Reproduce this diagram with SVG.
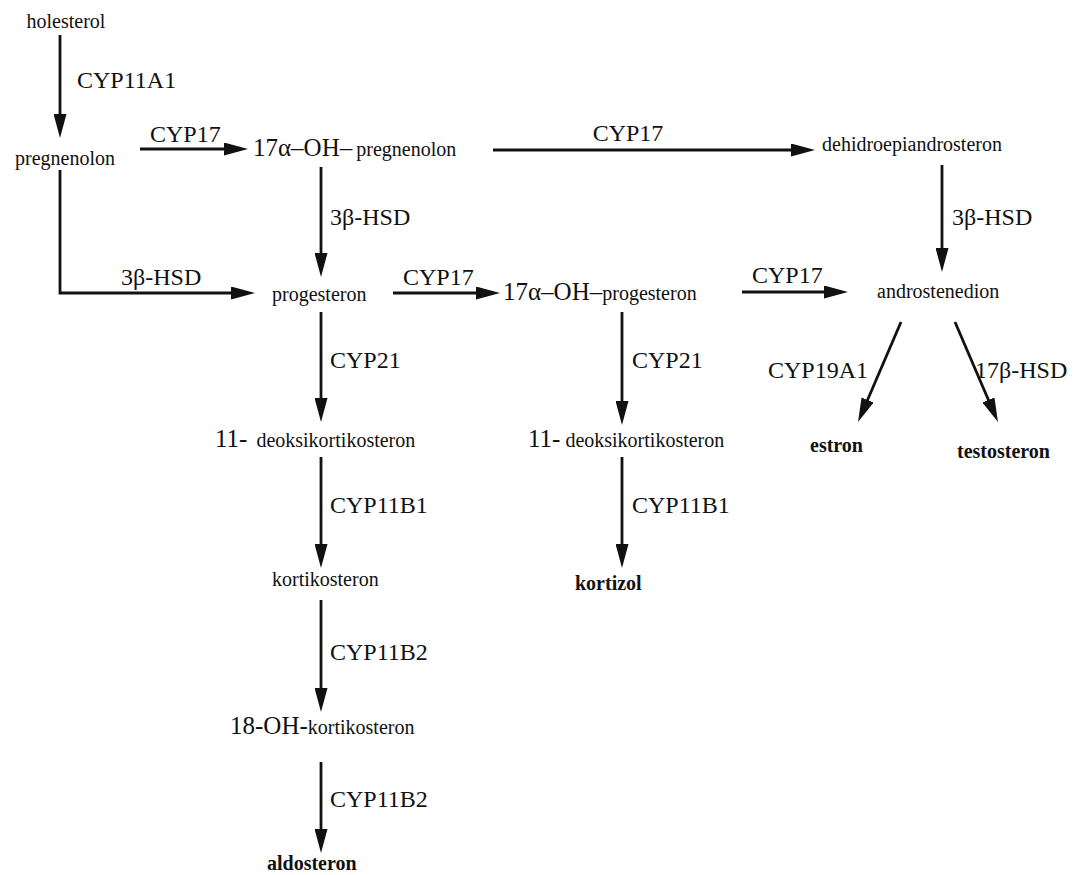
<svg xmlns="http://www.w3.org/2000/svg" width="1079" height="875" viewBox="0 0 1079 875">
<style>
text{font-family:"Liberation Serif","Times New Roman",serif;fill:#111}
.s{font-size:20px}
.l{font-size:24px}
.p{font-size:25px}
.b{font-size:20px;font-weight:bold}
.c line,.c polyline{stroke:#111;stroke-width:2.8;fill:none}
</style>
<defs>
<marker id="ah" viewBox="0 0 24 13" refX="16" refY="6.5" markerWidth="24" markerHeight="13" markerUnits="userSpaceOnUse" orient="auto">
<path d="M0,0 L24,6.5 L0,13 z" fill="#111"/>
</marker>
</defs>
<rect width="1079" height="875" fill="#fff"/>
<g class="c">
<line x1="60" y1="35" x2="60" y2="130" marker-end="url(#ah)"/>
<line x1="140" y1="149" x2="240" y2="149" marker-end="url(#ah)"/>
<line x1="493" y1="150" x2="807" y2="150" marker-end="url(#ah)"/>
<line x1="321" y1="167" x2="321" y2="269" marker-end="url(#ah)"/>
<polyline points="60,170 60,293 247,293" marker-end="url(#ah)"/>
<line x1="393" y1="293" x2="492" y2="293" marker-end="url(#ah)"/>
<line x1="742" y1="292" x2="840" y2="292" marker-end="url(#ah)"/>
<line x1="942" y1="165" x2="942" y2="264" marker-end="url(#ah)"/>
<line x1="901" y1="322" x2="861.2" y2="414.7" marker-end="url(#ah)"/>
<line x1="955" y1="322" x2="994.8" y2="414.7" marker-end="url(#ah)"/>
<line x1="321" y1="312" x2="321" y2="414" marker-end="url(#ah)"/>
<line x1="622" y1="312" x2="622" y2="417" marker-end="url(#ah)"/>
<line x1="321" y1="457" x2="321" y2="560" marker-end="url(#ah)"/>
<line x1="622" y1="457" x2="622" y2="560" marker-end="url(#ah)"/>
<line x1="321" y1="600" x2="321" y2="704" marker-end="url(#ah)"/>
<line x1="321" y1="762" x2="321" y2="845" marker-end="url(#ah)"/>
</g>
<g id="labels">
<text class="l" x="77" y="88">CYP11A1</text>
<text class="l" x="150" y="142">CYP17</text>
<text class="l" x="628" y="141" text-anchor="middle">CYP17</text>
<text class="l" x="330" y="225">3β-HSD</text>
<text class="l" x="121" y="285">3β-HSD</text>
<text class="l" x="403" y="285">CYP17</text>
<text class="l" x="752" y="283">CYP17</text>
<text class="l" x="952" y="225">3β-HSD</text>
<text class="l" x="868" y="378" text-anchor="end">CYP19A1</text>
<text class="l" x="975" y="378">17β-HSD</text>
<text class="l" x="330" y="368">CYP21</text>
<text class="l" x="632" y="368">CYP21</text>
<text class="l" x="330" y="513">CYP11B1</text>
<text class="l" x="632" y="513">CYP11B1</text>
<text class="l" x="330" y="660">CYP11B2</text>
<text class="l" x="330" y="807">CYP11B2</text>
</g>
<g id="holesterol"><text class="s" x="66" y="28" text-anchor="middle">holesterol</text></g>
<g id="pregnenolon"><text class="s" x="15" y="165">pregnenolon</text></g>
<g id="oh-pregnenolon"><text x="253" y="156"><tspan class="p">17α–OH–</tspan><tspan class="s" dx="4">pregnenolon</tspan></text></g>
<g id="dhea"><text class="s" x="822" y="151">dehidroepiandrosteron</text></g>
<g id="progesteron"><text class="s" x="272" y="301">progesteron</text></g>
<g id="oh-progesteron"><text x="503" y="300"><tspan class="p">17α–OH–</tspan><tspan class="s">progesteron</tspan></text></g>
<g id="androstenedion"><text class="s" x="877" y="298">androstenedion</text></g>
<g id="estron"><text class="b" x="810" y="452">estron</text></g>
<g id="testosteron"><text class="b" x="957" y="458">testosteron</text></g>
<g id="doc1"><text x="215" y="447"><tspan class="p">11-</tspan><tspan class="s" dx="9">deoksikortikosteron</tspan></text></g>
<g id="doc2"><text x="528" y="447"><tspan class="p">11-</tspan><tspan class="s" dx="5">deoksikortikosteron</tspan></text></g>
<g id="kortikosteron"><text class="s" x="272" y="586">kortikosteron</text></g>
<g id="kortizol"><text class="b" x="575" y="590">kortizol</text></g>
<g id="oh-kortikosteron"><text x="230" y="734"><tspan class="p">18-OH-</tspan><tspan class="s">kortikosteron</tspan></text></g>
<g id="aldosteron"><text class="b" x="267" y="870">aldosteron</text></g>
</svg>
